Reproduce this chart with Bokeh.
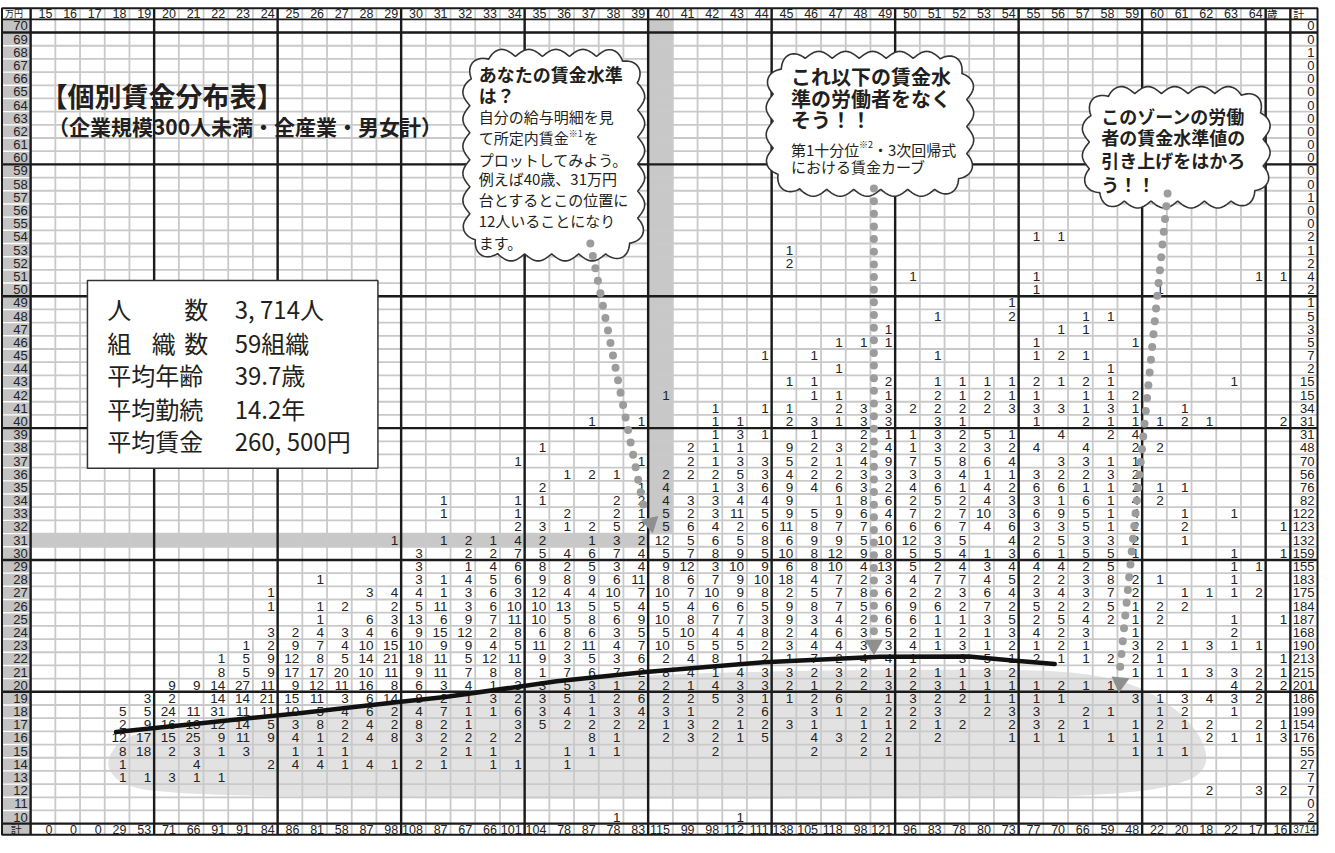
import numpy as np
from bokeh.plotting import figure
from bokeh.models import Range1d
from bokeh.core.properties import value
from bokeh.embed import file_html
from bokeh.resources import INLINE

# ---------------------------------------------------------------- data
AGE_COLUMNS = list(range(15, 66))            # 65 = last column, headed "歳"
AGE_LABELS = [str(a) for a in range(15, 65)] + ["歳"]
WAGE_ROWS = list(range(70, 9, -1))           # 万円, top to bottom

# counts per cell: {age: persons} for each wage row (万円台)
w70 = {}
w69 = {}
w68 = {}
w67 = {}
w66 = {}
w65 = {}
w64 = {}
w63 = {}
w62 = {}
w61 = {}
w60 = {}
w59 = {}
w58 = {}
w57 = {}
w56 = {}
w55 = {}
w54 = {55: 1, 56: 1}
w53 = {45: 1}
w52 = {45: 2}
w51 = {50: 1, 55: 1, 64: 1, 65: 1}
w50 = {55: 1, 60: 1}
w49 = {54: 1}
w48 = {51: 1, 54: 2, 57: 1, 58: 1}
w47 = {49: 1, 56: 1, 57: 1}
w46 = {47: 1, 48: 1, 49: 1, 55: 1, 59: 1}
w45 = {44: 1, 46: 1, 51: 1, 55: 1, 56: 2, 57: 1}
w44 = {47: 1, 58: 1}
w43 = {45: 1, 46: 1, 49: 2, 51: 1, 52: 1, 53: 1, 54: 1, 55: 2, 56: 1, 57: 2, 58: 1, 63: 1}
w42 = {40: 1, 46: 1, 47: 1, 49: 1, 51: 2, 52: 1, 53: 2, 54: 1, 55: 1, 57: 1, 58: 1, 59: 2}
w41 = {42: 1, 44: 1, 45: 1, 47: 2, 48: 3, 49: 3, 50: 2, 51: 2, 52: 2, 53: 2, 54: 3, 55: 3,
       56: 3, 57: 1, 58: 3, 59: 1, 61: 1}
w40 = {37: 1, 39: 1, 42: 1, 43: 1, 45: 2, 46: 3, 47: 1, 48: 3, 49: 3, 51: 3, 52: 1, 55: 1,
       57: 2, 58: 1, 59: 1, 60: 1, 61: 2, 62: 1, 65: 2}
w39 = {42: 1, 43: 3, 44: 1, 46: 1, 48: 2, 49: 1, 50: 1, 51: 3, 52: 2, 53: 5, 54: 1, 56: 4,
       58: 2, 59: 4}
w38 = {35: 1, 41: 2, 42: 1, 43: 1, 45: 9, 46: 2, 47: 3, 48: 2, 49: 4, 50: 1, 51: 3, 52: 2,
       53: 3, 54: 2, 55: 4, 57: 4, 59: 2, 60: 2}
w37 = {34: 1, 39: 1, 41: 2, 42: 1, 43: 3, 44: 3, 45: 5, 46: 2, 47: 1, 48: 4, 49: 9, 50: 7,
       51: 5, 52: 8, 53: 6, 54: 4, 56: 3, 57: 3, 58: 1, 59: 1}
w36 = {36: 1, 37: 2, 38: 1, 40: 2, 41: 2, 42: 2, 43: 5, 44: 3, 45: 4, 46: 2, 47: 2, 48: 3,
       49: 3, 50: 3, 51: 3, 52: 4, 53: 1, 54: 1, 55: 3, 56: 2, 57: 2, 58: 3, 59: 2}
w35 = {35: 2, 39: 1, 40: 4, 42: 1, 43: 3, 44: 6, 45: 9, 46: 4, 47: 6, 48: 3, 49: 2, 50: 4,
       51: 6, 52: 1, 53: 4, 54: 2, 55: 6, 56: 6, 57: 1, 58: 1, 59: 2, 60: 1, 61: 1}
w34 = {31: 1, 34: 1, 35: 1, 38: 2, 39: 2, 40: 4, 41: 3, 42: 3, 43: 4, 44: 4, 45: 9, 47: 1,
       48: 8, 49: 6, 50: 2, 51: 5, 52: 2, 53: 4, 54: 3, 55: 3, 56: 1, 57: 6, 58: 1, 59: 4,
       60: 2}
w33 = {31: 1, 34: 1, 36: 2, 38: 2, 39: 1, 40: 5, 41: 2, 42: 3, 43: 11, 44: 5, 45: 9, 46: 5,
       47: 9, 48: 6, 49: 4, 50: 7, 51: 2, 52: 7, 53: 10, 54: 3, 55: 6, 56: 9, 57: 5, 58: 1,
       59: 4, 61: 1, 63: 1}
w32 = {34: 2, 35: 3, 36: 1, 37: 2, 38: 5, 39: 2, 40: 5, 41: 6, 42: 4, 43: 2, 44: 6, 45: 11,
       46: 8, 47: 7, 48: 7, 49: 6, 50: 6, 51: 6, 52: 7, 53: 4, 54: 6, 55: 3, 56: 3, 57: 5,
       58: 1, 59: 2, 61: 2, 65: 1}
w31 = {29: 1, 31: 1, 32: 2, 33: 1, 34: 4, 35: 2, 37: 1, 38: 3, 39: 2, 40: 12, 41: 5, 42: 6,
       43: 5, 44: 8, 45: 6, 46: 9, 47: 9, 48: 5, 49: 10, 50: 12, 51: 3, 52: 5, 54: 4, 55: 2,
       56: 5, 57: 3, 58: 3, 59: 2, 61: 1}
w30 = {30: 3, 32: 2, 33: 2, 34: 7, 35: 5, 36: 4, 37: 6, 38: 7, 39: 4, 40: 5, 41: 7, 42: 8,
       43: 9, 44: 5, 45: 10, 46: 8, 47: 12, 48: 9, 49: 8, 50: 5, 51: 5, 52: 4, 53: 1, 54: 3,
       55: 6, 56: 1, 57: 5, 58: 5, 59: 1, 63: 1, 65: 1}
w29 = {30: 3, 32: 1, 33: 4, 34: 6, 35: 8, 36: 2, 37: 5, 38: 3, 39: 4, 40: 9, 41: 12, 42: 3,
       43: 10, 44: 9, 45: 6, 46: 8, 47: 10, 48: 4, 49: 13, 50: 5, 51: 2, 52: 4, 53: 3, 54: 4,
       55: 4, 56: 4, 57: 2, 58: 5, 63: 1, 64: 1}
w28 = {26: 1, 30: 3, 31: 1, 32: 4, 33: 5, 34: 6, 35: 9, 36: 8, 37: 9, 38: 6, 39: 11, 40: 8,
       41: 6, 42: 7, 43: 9, 44: 10, 45: 18, 46: 4, 47: 7, 48: 2, 49: 3, 50: 4, 51: 7, 52: 7,
       53: 4, 54: 5, 55: 2, 56: 2, 57: 3, 58: 8, 59: 2, 60: 1, 63: 1}
w27 = {24: 1, 28: 3, 29: 4, 30: 4, 31: 1, 32: 3, 33: 6, 34: 3, 35: 12, 36: 4, 37: 4, 38: 10,
       39: 7, 40: 10, 41: 7, 42: 10, 43: 9, 44: 8, 45: 2, 46: 5, 47: 7, 48: 8, 49: 6, 50: 2,
       51: 2, 52: 3, 53: 6, 54: 4, 55: 3, 56: 4, 57: 3, 58: 7, 59: 2, 61: 1, 62: 1, 63: 1,
       64: 2}
w26 = {24: 1, 26: 1, 27: 2, 29: 2, 30: 5, 31: 11, 32: 3, 33: 6, 34: 10, 35: 10, 36: 13,
       37: 5, 38: 5, 39: 4, 40: 5, 41: 4, 42: 6, 43: 6, 44: 5, 45: 9, 46: 8, 47: 7, 48: 5,
       49: 6, 50: 9, 51: 6, 52: 2, 53: 7, 54: 2, 55: 5, 56: 2, 57: 2, 58: 5, 59: 1, 60: 2,
       61: 2}
w25 = {26: 1, 28: 6, 29: 3, 30: 13, 31: 6, 32: 9, 33: 7, 34: 11, 35: 10, 36: 5, 37: 8,
       38: 6, 39: 9, 40: 10, 41: 8, 42: 7, 43: 7, 44: 3, 45: 9, 46: 3, 47: 4, 48: 2, 49: 6,
       50: 6, 51: 1, 52: 1, 53: 3, 54: 5, 55: 2, 56: 5, 57: 4, 58: 2, 59: 1, 60: 2, 63: 1,
       65: 1}
w24 = {24: 3, 25: 2, 26: 4, 27: 3, 28: 4, 29: 6, 30: 9, 31: 15, 32: 12, 33: 2, 34: 8, 35: 6,
       36: 8, 37: 6, 38: 3, 39: 5, 40: 5, 41: 10, 42: 4, 43: 4, 44: 8, 45: 2, 46: 4, 47: 6,
       48: 3, 49: 5, 50: 2, 51: 1, 52: 2, 53: 1, 54: 3, 55: 4, 56: 2, 57: 3, 59: 1, 63: 2}
w23 = {23: 1, 24: 2, 25: 9, 26: 7, 27: 4, 28: 10, 29: 15, 30: 10, 31: 9, 32: 9, 33: 4,
       34: 5, 35: 11, 36: 2, 37: 11, 38: 4, 39: 7, 40: 10, 41: 5, 42: 5, 43: 5, 44: 2, 45: 3,
       46: 4, 47: 4, 48: 3, 49: 3, 50: 4, 51: 1, 52: 3, 53: 1, 54: 2, 55: 1, 56: 2, 57: 1,
       59: 3, 60: 2, 61: 1, 62: 3, 63: 1, 64: 1}
w22 = {22: 1, 23: 5, 24: 9, 25: 12, 26: 8, 27: 5, 28: 14, 29: 21, 30: 18, 31: 11, 32: 5,
       33: 12, 34: 11, 35: 9, 36: 3, 37: 5, 38: 3, 39: 6, 40: 2, 41: 4, 42: 8, 43: 1, 44: 2,
       45: 1, 46: 7, 47: 2, 48: 4, 49: 4, 50: 1, 52: 3, 53: 5, 54: 1, 55: 2, 56: 1, 57: 1,
       58: 2, 59: 2, 60: 1, 65: 1}
w21 = {22: 8, 23: 5, 24: 9, 25: 17, 26: 17, 27: 20, 28: 10, 29: 11, 30: 9, 31: 11, 32: 7,
       33: 8, 34: 8, 35: 1, 36: 7, 37: 6, 38: 7, 39: 2, 40: 8, 41: 4, 42: 1, 43: 4, 44: 3,
       45: 3, 46: 2, 47: 3, 48: 2, 49: 1, 50: 2, 51: 1, 52: 1, 53: 3, 54: 2, 59: 1, 60: 1,
       61: 1, 62: 3, 63: 3, 64: 2, 65: 1}
w20 = {20: 9, 21: 9, 22: 14, 23: 27, 24: 11, 25: 9, 26: 12, 27: 11, 28: 16, 29: 8, 30: 6,
       31: 3, 32: 4, 33: 1, 34: 3, 35: 3, 36: 5, 37: 3, 38: 1, 39: 2, 40: 2, 41: 1, 42: 4,
       43: 3, 44: 3, 45: 2, 46: 1, 47: 2, 48: 2, 49: 3, 50: 2, 51: 3, 52: 1, 53: 1, 54: 1,
       55: 1, 56: 2, 57: 1, 58: 1, 63: 4, 64: 2, 65: 2}
w19 = {19: 3, 20: 2, 22: 14, 23: 14, 24: 21, 25: 15, 26: 11, 27: 3, 28: 6, 29: 14, 30: 8,
       31: 2, 32: 1, 33: 3, 34: 2, 35: 3, 36: 5, 37: 1, 38: 2, 39: 6, 40: 2, 41: 2, 42: 5,
       43: 3, 44: 1, 45: 1, 46: 2, 47: 6, 49: 1, 50: 3, 51: 2, 52: 2, 53: 1, 54: 1, 55: 1,
       56: 1, 59: 3, 60: 1, 61: 3, 62: 4, 63: 3, 64: 2}
w18 = {18: 5, 19: 5, 20: 24, 21: 11, 22: 31, 23: 11, 24: 11, 25: 10, 26: 5, 27: 4, 28: 6,
       29: 2, 30: 4, 31: 7, 32: 1, 33: 1, 34: 6, 35: 3, 36: 4, 37: 1, 38: 3, 39: 4, 40: 3,
       41: 1, 43: 2, 44: 6, 46: 3, 47: 1, 48: 2, 49: 2, 50: 2, 51: 3, 53: 2, 54: 3, 55: 3,
       57: 2, 58: 1, 60: 1, 61: 2, 63: 1}
w17 = {18: 2, 19: 9, 20: 16, 21: 13, 22: 12, 23: 14, 24: 5, 25: 3, 26: 8, 27: 2, 28: 4,
       29: 2, 30: 8, 31: 2, 32: 1, 34: 3, 35: 5, 36: 2, 37: 2, 38: 2, 39: 2, 40: 1, 41: 3,
       42: 2, 43: 1, 44: 2, 45: 3, 46: 1, 48: 1, 49: 1, 50: 2, 51: 1, 52: 2, 54: 2, 55: 3,
       56: 2, 57: 1, 59: 1, 60: 2, 61: 1, 62: 2, 64: 2, 65: 1}
w16 = {18: 12, 19: 17, 20: 15, 21: 25, 22: 9, 23: 11, 24: 9, 25: 4, 26: 1, 27: 2, 28: 4,
       29: 8, 30: 3, 31: 2, 32: 2, 33: 2, 34: 2, 37: 8, 38: 1, 40: 2, 41: 3, 42: 2, 43: 1,
       44: 5, 46: 4, 47: 3, 48: 2, 49: 2, 51: 2, 54: 1, 55: 1, 56: 1, 58: 1, 59: 1, 60: 1,
       62: 2, 63: 1, 64: 1, 65: 3}
w15 = {18: 8, 19: 18, 20: 2, 21: 3, 22: 1, 23: 3, 25: 1, 26: 1, 27: 1, 31: 2, 32: 1, 33: 1,
       36: 1, 37: 1, 38: 1, 42: 2, 46: 2, 48: 2, 49: 1, 59: 1, 60: 1, 61: 1}
w14 = {18: 1, 21: 4, 24: 2, 25: 4, 26: 4, 27: 1, 28: 4, 29: 1, 30: 2, 31: 1, 33: 1, 34: 1,
       36: 1}
w13 = {18: 1, 19: 1, 20: 3, 21: 1, 22: 1}
w12 = {62: 2, 64: 3, 65: 2}
w11 = {}
w10 = {38: 1, 43: 1}

ROWS = [w70, w69, w68, w67, w66, w65, w64, w63, w62, w61, w60,
        w59, w58, w57, w56, w55, w54, w53, w52, w51, w50,
        w49, w48, w47, w46, w45, w44, w43, w42, w41, w40,
        w39, w38, w37, w36, w35, w34, w33, w32, w31, w30,
        w29, w28, w27, w26, w25, w24, w23, w22, w21, w20,
        w19, w18, w17, w16, w15, w14, w13, w12, w11, w10]

ROW_TOTALS = [0, 0, 1, 0, 0, 0, 0, 0, 0, 0, 0,
              0, 0, 1, 0, 0, 2, 1, 2, 4, 2,
              1, 5, 3, 5, 7, 2, 15, 15, 34, 31,
              31, 48, 70, 56, 76, 82, 122, 123, 132, 159,
              155, 183, 175, 184, 187, 168, 190, 213, 215, 201,
              186, 199, 154, 176, 55, 27, 7, 7, 0, 2]

COL_TOTALS = [0, 0, 0, 29, 53, 71, 66, 91, 91, 84, 86, 81, 58, 87, 98,
              108, 87, 67, 66, 101, 104, 78, 87, 78, 83, 115, 99, 98, 112, 111,
              138, 105, 118, 98, 121, 96, 83, 78, 80, 73, 77, 70, 66, 59, 48,
              22, 20, 18, 22, 17, 16]
GRAND_TOTAL = 3714

# 第1十分位・3次回帰式 wage curve (age, 万円)
CURVE_AGE = [17.96, 21.3, 25.28, 29.3, 31.28, 35.8, 39.4, 44.2, 48.88, 52.48, 55.96]
CURVE_WAGE = [16.45, 17.1, 17.86, 18.7, 19.1, 20.3, 21.0, 21.75, 22.15, 22.17, 21.6]

# low-wage zone outline (age, 万円)
ZONE_AGE = [17.7, 18.2, 19.6, 25.28, 31.28, 35.68, 39.56, 45.28, 53.28, 56.6, 58.7,
            60.1, 61.5, 62.2, 61.9, 60.8, 59.3, 56.48, 49.28, 37.28, 25.28, 19.68,
            18.2, 17.6]
ZONE_WAGE = [14.78, 15.95, 16.7, 17.62, 19.05, 20.15, 20.8, 21.1, 21.2, 21.05, 20.35,
             19.2, 17.2, 14.78, 13.2, 12.4, 11.9, 11.55, 11.4, 11.35, 11.5, 11.85,
             12.45, 13.66]

HIGHLIGHT_AGE = 40
HIGHLIGHT_WAGE = 31

STAT_VALUES = ["3, 714人", "59組織", "39.7歳", "14.2年", "260, 500円"]

TITLE = "【個別賃金分布表】"
SUBTITLE = "（企業規模300人未満・全産業・男女計）"

# ---------------------------------------------------------------- layout
W, H = 1319, 837
X0, X1 = 13.28, 66.68
Y0, Y1 = 8.45, 71.93
SX = W / (X1 - X0)
SY = H / (Y1 - Y0)

GRID_L, GRID_R = 14.5, 65.5
LBL_L = 13.34
TOT_R = 66.6
HEAD_T = 71.34
ROW_T, ROW_B = 70.5, 9.5
FOOT_B = 8.66

NUM_FONT = "Liberation Sans"
JP = "Noto Sans CJK JP"
INK = "#231f20"
NUM_INK = "#222222"
NUM_SIZE = "13px"

p = figure(width=W, height=H, x_range=Range1d(X0, X1), y_range=Range1d(Y0, Y1),
           output_backend="svg", toolbar_location=None, min_border=0,
           x_axis_location=None, y_axis_location=None)
p.grid.visible = False
p.outline_line_color = None
p.background_fill_color = "white"
p.border_fill_color = "white"


def chaikin(xs, ys, it=3):
    pts = np.column_stack([xs, ys])
    for _ in range(it):
        nxt = np.roll(pts, -1, axis=0)
        q = 0.75 * pts + 0.25 * nxt
        r = 0.25 * pts + 0.75 * nxt
        pts = np.empty((2 * len(q), 2))
        pts[0::2] = q
        pts[1::2] = r
    return pts[:, 0], pts[:, 1]


# zone
zx, zy = chaikin(ZONE_AGE, ZONE_WAGE, 3)
p.patch(zx, zy, fill_color="#e2e2e2", line_color=None)

# highlight bands (age 40 column and 31万円 row)
p.quad(left=[HIGHLIGHT_AGE - 0.5, GRID_L], right=[HIGHLIGHT_AGE + 0.5, HIGHLIGHT_AGE - 0.5],
       bottom=[HIGHLIGHT_WAGE + 0.5, HIGHLIGHT_WAGE - 0.5],
       top=[ROW_T, HIGHLIGHT_WAGE + 0.5], fill_color="#c8c8c8", line_color=None)

# label column
p.quad(left=[LBL_L], right=[GRID_L], bottom=[FOOT_B], top=[ROW_T],
       fill_color="#c3c3c3", line_color=None)
sep = [w - 0.5 for w in WAGE_ROWS]
p.segment(x0=[LBL_L] * len(sep), x1=[GRID_L] * len(sep), y0=sep, y1=sep,
          line_color="white", line_width=1.4)

# light grid
vx = [a + 0.5 for a in AGE_COLUMNS[:-1]]
p.segment(x0=vx, x1=vx, y0=[FOOT_B] * len(vx), y1=[HEAD_T] * len(vx),
          line_color="#c9c9c9", line_width=1.8)
hy = [w - 0.5 for w in WAGE_ROWS[:-1]]
p.segment(x0=[GRID_L] * len(hy), x1=[TOT_R] * len(hy), y0=hy, y1=hy,
          line_color="#c9c9c9", line_width=1.8)

# heavy grid
tv = [a - 0.5 for a in AGE_COLUMNS if (a - 15) % 5 == 0] + [GRID_R]
p.segment(x0=tv, x1=tv, y0=[FOOT_B] * len(tv), y1=[HEAD_T] * len(tv),
          line_color="#1b1b1b", line_width=2.4)
th = [w - 0.5 for w in WAGE_ROWS if w % 10 == 0]
p.segment(x0=[LBL_L] * len(th), x1=[TOT_R] * len(th), y0=th, y1=th,
          line_color="#1b1b1b", line_width=2.4)
p.segment(x0=[LBL_L], x1=[TOT_R], y0=[ROW_T], y1=[ROW_T], line_color="#1b1b1b", line_width=1.6)
p.quad(left=[LBL_L], right=[TOT_R], bottom=[FOOT_B], top=[HEAD_T], fill_color=None,
       line_color="#1b1b1b", line_width=2.0)

# header
hdr_y = (ROW_T + HEAD_T) / 2
p.text(x=[a + 0.5 for a in AGE_COLUMNS[:-1]], y=[hdr_y] * (len(AGE_COLUMNS) - 1),
       text=AGE_LABELS[:-1], text_align="right", text_baseline="middle", x_offset=-3,
       text_font=value(NUM_FONT), text_font_size="12.5px", text_color=NUM_INK)
p.text(x=[AGE_COLUMNS[-1] - 0.5], y=[hdr_y], text=[AGE_LABELS[-1]], text_align="left",
       text_baseline="middle", x_offset=1, text_font=value(JP), text_font_size="11px",
       text_color=NUM_INK)
p.text(x=[GRID_R], y=[hdr_y], text=["計"], text_align="left", text_baseline="middle",
       x_offset=3, text_font=value(JP), text_font_size="11px", text_color=NUM_INK)
p.text(x=[LBL_L], y=[hdr_y], text=["万円"], text_align="left", text_baseline="middle",
       x_offset=3, text_font=value(JP), text_font_size="9px", text_color=NUM_INK)

# row labels
p.text(x=[GRID_L] * len(WAGE_ROWS), y=WAGE_ROWS, text=[str(w) for w in WAGE_ROWS],
       text_align="right", text_baseline="middle", x_offset=-3,
       text_font=value(NUM_FONT), text_font_size=NUM_SIZE, text_color=NUM_INK)
foot_y = (ROW_B + FOOT_B) / 2
p.text(x=[(LBL_L + GRID_L) / 2], y=[foot_y], text=["計"], text_align="center",
       text_baseline="middle", text_font=value(JP), text_font_size="11px", text_color=NUM_INK)

# cells
cx, cy, ct = [], [], []
for wage, row in zip(WAGE_ROWS, ROWS):
    for age, n in row.items():
        cx.append(age + 0.5)
        cy.append(wage)
        ct.append(str(n))
p.text(x=cx, y=cy, text=ct, text_align="right", text_baseline="middle", x_offset=-3,
       text_font=value(NUM_FONT), text_font_size="13.5px", text_color=NUM_INK)

# totals
p.text(x=[TOT_R] * len(WAGE_ROWS), y=WAGE_ROWS, text=[str(t) for t in ROW_TOTALS],
       text_align="right", text_baseline="middle", x_offset=-3,
       text_font=value(NUM_FONT), text_font_size=NUM_SIZE, text_color=NUM_INK)
p.text(x=[a + 0.5 for a in AGE_COLUMNS], y=[foot_y] * len(AGE_COLUMNS),
       text=[str(t) for t in COL_TOTALS], text_align="right", text_baseline="middle",
       x_offset=-3, text_font=value(NUM_FONT), text_font_size="12.5px", text_color=NUM_INK)
p.text(x=[TOT_R], y=[foot_y], text=[str(GRAND_TOTAL)], text_align="right",
       text_baseline="middle", x_offset=-2, text_font=value(NUM_FONT),
       text_font_size="10px", text_color=NUM_INK)

# wage curve
p.line(CURVE_AGE, CURVE_WAGE, line_color="#111111", line_width=4.5, line_cap="round")


# ---------------------------------------------------------------- callouts
def cloud(a0, a1, w0, w1, bump=27.0, depth=7.0, radius=32.0):
    L = (a0 - X0) * SX + depth
    R = (a1 - X0) * SX - depth
    B = (w0 - Y0) * SY + depth
    T = (w1 - Y0) * SY - depth
    r = min(radius, (R - L) / 2, (T - B) / 2)
    pts = []
    for ccx, ccy, t0, t1 in [(R - r, B + r, -90, 0), (R - r, T - r, 0, 90),
                             (L + r, T - r, 90, 180), (L + r, B + r, 180, 270)]:
        for t in np.linspace(np.radians(t0), np.radians(t1), 40):
            pts.append((ccx + r * np.cos(t), ccy + r * np.sin(t)))
    pts.append(pts[0])
    pts = np.array(pts)
    seg = np.hypot(np.diff(pts[:, 0]), np.diff(pts[:, 1]))
    s = np.concatenate([[0], np.cumsum(seg)])
    total = s[-1]
    n = max(8, int(round(total / bump)))
    bl = total / n
    ss = np.linspace(0, total, n * 24, endpoint=False)
    px = np.interp(ss, s, pts[:, 0])
    py = np.interp(ss, s, pts[:, 1])
    tx = np.roll(px, -1) - np.roll(px, 1)
    ty = np.roll(py, -1) - np.roll(py, 1)
    nn = np.hypot(tx, ty)
    nx, ny = ty / nn, -tx / nn
    off = depth * np.abs(np.sin(np.pi * ss / bl))
    px = px + nx * off
    py = py + ny * off
    return X0 + px / SX, Y0 + py / SY


for box in [(32.0, 39.36, 52.18, 68.22), (44.28, 52.68, 57.08, 68.07),
            (57.08, 64.68, 56.19, 65.4)]:
    ax, ay = cloud(*box)
    p.patch(ax, ay, fill_color="white", line_color="#333333", line_width=1.6)

# dotted leader lines
DOT = "#9c9c9c"
for (a0, w0), (a1, w1), n in [((37.16, 53.5), (39.3, 33.7), 22),
                              ((48.64, 57.67), (48.64, 24.1), 36),
                              ((60.53, 57.3), (58.61, 21.4), 38)]:
    p.scatter(np.linspace(a0, a1, n), np.linspace(w0, w1, n), size=8, color=DOT,
              line_color=None)
p.scatter([39.6, 48.64, 58.6], [32.3, 23.05, 20.2], marker="inverted_triangle", size=18,
          angle=[12, 0, -6], angle_units="deg", color="#8f8f8f", line_color=None)


def txt(x, y, s, size, bold=False, align="left", font=JP, color=INK):
    p.text(x=[x], y=[y], text=[s], text_font=value(font), text_font_size=f"{size}px",
           text_font_style="bold" if bold else "normal", text_align=align,
           text_baseline="middle", text_color=color)


# callout 1
c1x = 32.64
c1 = [("あなたの賃金水準", 18, True, 66.36), ("は？", 18, True, 64.73),
      ("自分の給与明細を見", 15, False, 63.17), ("て所定内賃金", 15, False, 61.54),
      ("プロットしてみよう。", 15, False, 59.9), ("例えば40歳、31万円", 15, False, 58.42),
      ("台とするとこの位置に", 15, False, 56.86), ("12人いることになり", 15, False, 55.23),
      ("ます。", 15, False, 53.6)]
for s, sz, b, y in c1:
    txt(c1x, y, s, sz, b)
txt(c1x + 90 / SX, 61.54 + 0.33, "※1", 9)
txt(c1x + 105 / SX, 61.54, "を", 15)

# callout 2
c2x = 45.28
for s, y in [("これ以下の賃金水", 66.14), ("準の労働者をなく", 64.51), ("そう！！", 62.87)]:
    txt(c2x, y, s, 20, True)
txt(c2x, 60.65, "第1十分位", 15)
txt(c2x + 68 / SX, 60.65 + 0.33, "※2", 9)
txt(c2x + 82 / SX, 60.65, "・3次回帰式", 15)
txt(c2x, 59.31, "における賃金カーブ", 15)

# callout 3
c3x = 57.84
for s, y in [("このゾーンの労働", 63.17), ("者の賃金水準値の", 61.54),
             ("引き上げをはかろ", 59.83), ("う！！", 57.98)]:
    txt(c3x, y, s, 18, True)

# title
txt(14.9, 64.73, TITLE, 27, True)
txt(15.2, 62.43, SUBTITLE, 21, True)

# summary box
p.quad(left=[16.8], right=[28.56], bottom=[36.45], top=[50.7], fill_color="white",
       line_color="#333333", line_width=1.5)
stat_y = [48.55, 46.02, 43.57, 40.98, 38.53]
txt(17.6, stat_y[0], "人", 24)
txt(20.72, stat_y[0], "数", 24)
txt(17.6, stat_y[1], "組", 24)
txt(19.4, stat_y[1], "織", 24)
txt(20.72, stat_y[1], "数", 24)
txt(17.6, stat_y[2], "平均年齢", 24)
txt(17.6, stat_y[3], "平均勤続", 24)
txt(17.6, stat_y[4], "平均賃金", 24)
for s, y in zip(STAT_VALUES, stat_y):
    txt(22.76, y, s, 24)

open("out.html", "w").write(file_html(p, INLINE, "個別賃金分布表"))
